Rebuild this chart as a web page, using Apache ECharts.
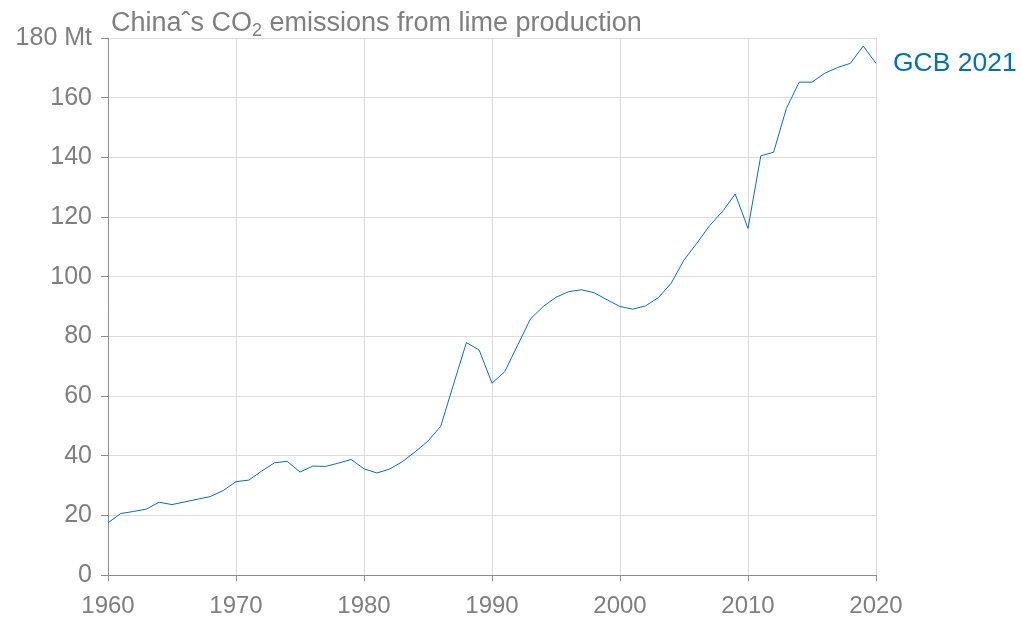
<!DOCTYPE html>
<html>
<head>
  <meta charset="UTF-8">
  <title>China lime CO2</title>
  <style>
    html, body { margin: 0; padding: 0; background: #fff; }
    #chart { width: 1022px; height: 621px; }
  </style>
</head>
<body>
  <div id="chart"></div>
  <script src="https://cdn.jsdelivr.net/npm/echarts@6/dist/echarts.min.js"></script>
  <script>
    const years = [];
    for (let y = 1960; y <= 2020; y++) years.push(y);
    // Mt CO2
    const emissions = [
      17.5, 20.6, 21.3, 22.1, 24.4, 23.6, 24.5, 25.4, 26.3, 28.3,
      31.3, 31.8, 34.8, 37.6, 38.1, 34.5, 36.5, 36.4, 37.5, 38.7,
      35.6, 34.2, 35.5, 38.0, 41.3, 44.9, 49.9, 64.0, 77.9, 75.4,
      64.3, 68.2, 77.0, 85.8, 90.0, 93.1, 95.0, 95.6, 94.6, 92.2,
      90.0, 89.1, 90.2, 93.0, 97.8, 105.6, 111.2, 117.1, 121.8, 127.7,
      116.2, 140.5, 141.7, 156.4, 165.2, 165.2, 168.2, 170.1, 171.5, 177.3,
      171.5
    ];
    const seriesName = 'GCB 2021';
    const yTicks = [0, 20, 40, 60, 80, 100, 120, 140, 160, 180];

    const font = '"Liberation Sans", Arial, sans-serif';
    const grey = '#7f7f7f';
    const blue = '#0070c0';

    const chart = echarts.init(document.getElementById('chart'));
    const option = {
      animation: false,
      textStyle: { fontFamily: font },
      title: {
        text: '{t|Chinaˆs CO}{s|2}{t| emissions from lime production}',
        left: 106,
        top: 2,
        textStyle: {
          rich: {
            t: { fontFamily: font, fontSize: 27, color: grey, fontWeight: 'normal' },
            s: { fontFamily: font, fontSize: 18, color: grey, fontWeight: 'normal', padding: [15, 0, 0, 0] }
          }
        }
      },
      grid: { left: 108, right: 146, top: 38, bottom: 46 },
      xAxis: {
        type: 'value',
        min: 1960,
        max: 2020,
        interval: 10,
        axisLine: { lineStyle: { color: '#8c8c8c', width: 1 } },
        axisTick: { show: true, length: 6, lineStyle: { color: '#8c8c8c' } },
        axisLabel: {
          color: grey, fontSize: 24, fontFamily: font, margin: 19,
          formatter: v => String(v)
        },
        splitLine: { show: true, lineStyle: { color: '#dcdcdc', width: 1 } }
      },
      yAxis: {
        type: 'value',
        min: yTicks[0],
        max: yTicks[yTicks.length - 1],
        interval: 20,
        axisLine: { show: true, lineStyle: { color: '#8c8c8c', width: 1 } },
        axisTick: { show: true, length: 7, lineStyle: { color: '#8c8c8c' } },
        axisLabel: {
          color: grey, fontSize: 25, fontFamily: font, margin: 16,
          formatter: v => (v === 180 ? '180 Mt' : String(v))
        },
        splitLine: { show: true, lineStyle: { color: '#dcdcdc', width: 1 } }
      },
      series: [{
        name: seriesName,
        type: 'line',
        data: years.map((y, i) => [y, emissions[i]]),
        showSymbol: false,
        lineStyle: { color: blue, width: 1 },
        itemStyle: { color: blue },
        endLabel: {
          show: true,
          formatter: seriesName,
          color: blue,
          fontSize: 26.5,
          fontFamily: font,
          distance: 17
        }
      }]
    };
    chart.setOption(option);
  </script>
</body>
</html>
